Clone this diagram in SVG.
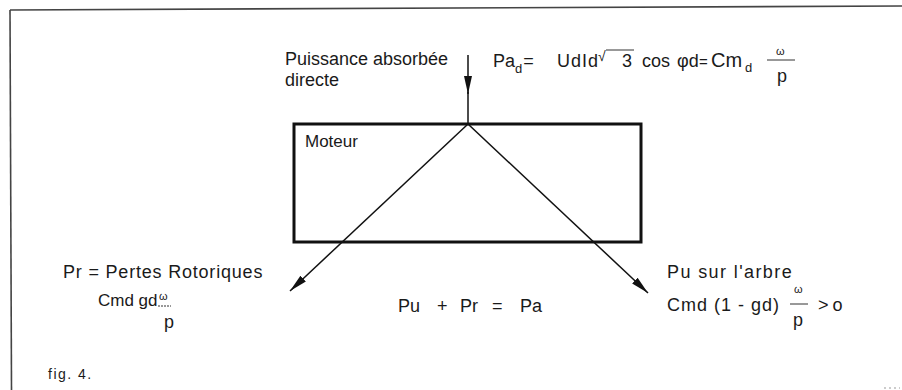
<svg xmlns="http://www.w3.org/2000/svg" width="902" height="390" viewBox="0 0 902 390">
<style>
  text { font-family: "Liberation Sans", Arial, sans-serif; fill: #1a1a1a; font-size: 18px; }
  .sub { font-size: 13px; }
  .small { font-size: 11px; }
  .frame { stroke: #444; stroke-width: 1.6; fill: none; }
  .box { stroke: #111; stroke-width: 3; fill: none; }
  .conn { stroke: #111; stroke-width: 1.5; fill: none; }
  .frac { stroke: #333; stroke-width: 1; }
</style>
<defs>
  <marker id="arrow" markerUnits="userSpaceOnUse" markerWidth="20" markerHeight="10" refX="18" refY="5" orient="auto">
    <path d="M0,1 L18,5 L0,9 z" fill="#111"/>
  </marker>
</defs>
<g id="frame">
  <line class="frame" x1="10" y1="10" x2="902" y2="6"/>
  <line class="frame" x1="10" y1="10" x2="11.5" y2="390"/>
  <line x1="884" y1="388" x2="900" y2="388" stroke="#999" stroke-width="1" stroke-dasharray="2,3"/>
</g>
<g id="moteur">
  <rect class="box" x="294" y="124" width="347" height="118"/>
  <text x="305" y="147" style="font-size:17px">Moteur</text>
</g>
<g id="connectors">
  <line class="conn" x1="468" y1="55" x2="468" y2="94" marker-end="url(#arrow)"/>
  <line class="conn" x1="468" y1="92" x2="468" y2="124"/>
  <line class="conn" x1="468" y1="124" x2="290" y2="291" marker-end="url(#arrow)"/>
  <line class="conn" x1="468" y1="124" x2="648" y2="293" marker-end="url(#arrow)"/>
</g>
<g id="input">
  <text x="285" y="65">Puissance absorbée</text>
  <text x="285" y="86">directe</text>
  <text x="493" y="67">Pa<tspan class="sub" dy="6">d</tspan><tspan dy="-6" dx="1">=</tspan></text>
  <text x="557" y="67" textLength="41" lengthAdjust="spacing">UdId</text>
  <text x="598" y="61" style="font-size:14px">√</text>
  <line x1="606" y1="50" x2="634" y2="50" stroke="#333" stroke-width="1"/>
  <text x="622" y="67">3</text>
  <text x="642" y="67">cos</text>
  <text x="677" y="67">φd</text>
  <text x="699" y="67" style="font-size:15px">=</text>
  <text x="711" y="67" style="font-size:20px">Cm</text>
  <text x="745" y="72" class="sub">d</text>
  <text x="776" y="55" class="small">ω</text>
  <line class="frac" x1="767" y1="60" x2="795" y2="60"/>
  <text x="777" y="82">p</text>
</g>
<g id="losses">
  <text x="63" y="278" style="letter-spacing:0.8px">Pr = Pertes Rotoriques</text>
  <text x="98" y="306" style="font-size:17px">Cmd gd</text>
  <text x="159" y="300" class="small">ω</text>
  <line class="frac" x1="158" y1="306" x2="171" y2="306" stroke-dasharray="2,1"/>
  <text x="164" y="328">p</text>
</g>
<g id="output">
  <text x="667" y="278" style="letter-spacing:1.4px">Pu sur l'arbre</text>
  <text x="667" y="311" style="letter-spacing:1px">Cmd (1 - gd)</text>
  <text x="794" y="293" class="small">ω</text>
  <line class="frac" x1="790" y1="304" x2="808" y2="304"/>
  <text x="793" y="326">p</text>
  <text x="818" y="311" style="letter-spacing:4px">&gt;o</text>
</g>
<g id="balance">
  <text y="312"><tspan x="398">Pu</tspan><tspan x="437">+</tspan><tspan x="460">Pr</tspan><tspan x="492">=</tspan><tspan x="520">Pa</tspan></text>
</g>
<g id="caption">
  <text x="48" y="379" style="font-size:14px;letter-spacing:1.5px">fig. 4.</text>
</g>
</svg>
